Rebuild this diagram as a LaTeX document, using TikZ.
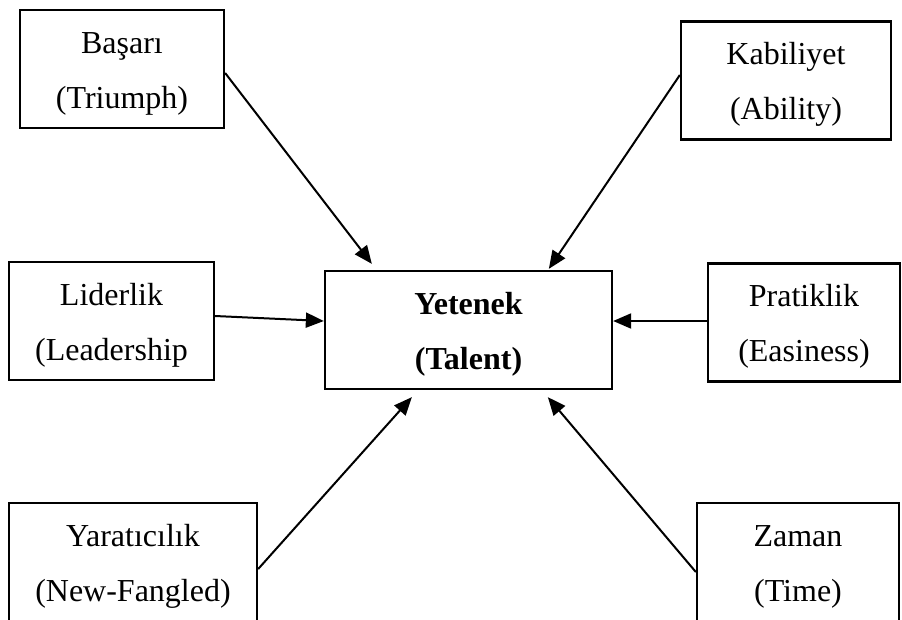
\documentclass[tikz,border=0pt]{standalone}
\usepackage{fontspec}
\setmainfont{Liberation Serif}
\usetikzlibrary{arrows.meta}
% fixed first-line height so all two-line labels sit alike in their boxes
\newcommand{\toprow}{\rule{0pt}{30pt}}
\begin{document}
\begin{tikzpicture}[x=1pt,y=-1pt,
  box/.style={draw, line width=2.3pt, rectangle, align=center, inner sep=0pt,
    minimum height=118pt, font=\fontsize{32}{55}\selectfont},
  link/.style={line width=2pt, -{Triangle[length=18pt,width=15pt]}}]
\useasboundingbox (0,0) rectangle (902,619);
\clip (0,0) rectangle (902,619);

% central concept
\node[box, minimum width=287pt] (yet) at (468.5,330) {\toprow\bfseries Yetenek\\\bfseries (Talent)};

% surrounding factors
\node[box, minimum width=204pt] (bas) at (122,69) {\toprow Başarı\\(Triumph)};
\node[box, minimum width=210pt] (kab) at (786,80.5) {\toprow Kabiliyet\\(Ability)};
\node[box, minimum width=205pt] (lid) at (111.5,321) {\toprow Liderlik\\(Leadership};
\node[box, minimum width=192pt] (pra) at (804,322.5) {\toprow Pratiklik\\(Easiness)};
\node[box, minimum width=248pt] (yar) at (133,562) {\toprow Yaratıcılık\\(New-Fangled)};
\node[box, minimum width=202pt] (zam) at (798,562) {\toprow Zaman\\(Time)};

% arrows into the central concept
\draw[link] ([shift={(0,4)}]bas.east) -- ([shift={(48,-6)}]yet.north west);
\draw[link] ([shift={(0,-5.5)}]kab.west) -- ([shift={(225,-1)}]yet.north west);
\draw[link] ([shift={(0,-5)}]lid.east) -- ([shift={(0,-9)}]yet.west);
\draw[link] ([shift={(0,-1.5)}]pra.west) -- ([shift={(0,-9)}]yet.east);
\draw[link] ([shift={(0,7)}]yar.east) -- ([shift={(88,7)}]yet.south west);
\draw[link] ([shift={(0,10)}]zam.west) -- ([shift={(224,7)}]yet.south west);
\end{tikzpicture}
\end{document}
